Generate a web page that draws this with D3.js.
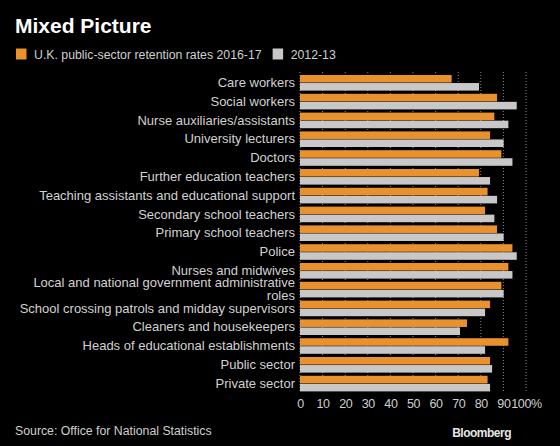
<!DOCTYPE html>
<html><head><meta charset="utf-8">
<script src="https://cdn.jsdelivr.net/npm/d3@7"></script>
<style>
html,body{margin:0;padding:0;background:#000;}
svg{display:block;}
text{font-family:"Liberation Sans",sans-serif;}
</style></head>
<body>
<svg id="chart" width="560" height="446"></svg>
<script>
const categories = [
  "Care workers","Social workers","Nurse auxiliaries/assistants","University lecturers",
  "Doctors","Further education teachers","Teaching assistants and educational support",
  "Secondary school teachers","Primary school teachers","Police","Nurses and midwives",
  "Local and national government administrative roles",
  "School crossing patrols and midday supervisors","Cleaners and housekeepers",
  "Heads of educational establishments","Public sector","Private sector"
];
const rates2016 = [67.1,87.2,86.0,84.1,89.1,79.2,83.0,81.9,87.2,94.0,92.2,89.1,84.1,73.9,92.2,84.1,83.0];
const rates2012 = [79.2,95.9,92.2,90.1,94.0,84.1,87.2,86.0,90.1,95.9,94.0,90.1,81.9,70.8,81.9,85.0,84.1];
const seriesNames = ["U.K. public-sector retention rates 2016-17","2012-13"];
const tickValues = [0,10,20,30,40,50,60,70,80,90,100];

const colors = ["#e8912d","#c8c8c8"];
const svg = d3.select("#chart");
svg.append("rect").attr("width",560).attr("height",446).attr("fill","#000");

const x = d3.scaleLinear().domain([0,100]).range([300,526]);
const y = d3.scaleBand().domain(categories).range([73.4,393]).paddingInner(0.17).paddingOuter(0.085);
const ySub = d3.scaleBand().domain([0,1]).range([0,y.bandwidth()]).paddingInner(0.06);

// title
svg.append("text").attr("x",15).attr("y",33).attr("fill","#fff")
  .style("font-weight","bold").style("font-size","21px")
  .text("Mixed Picture");

// legend
const leg = svg.append("g");
let lx = 16;
seriesNames.forEach((name,i)=>{
  leg.append("rect").attr("x",lx).attr("y",48.5).attr("width",10.5).attr("height",11).attr("fill",colors[i]);
  const t = leg.append("text").attr("x",lx+18).attr("y",59).attr("fill","#cfcfcf")
    .style("font-size","12.3px").text(name);
  lx += 18 + t.node().getComputedTextLength() + 11;
});

// gridlines
svg.append("g").selectAll("line").data(tickValues).join("line")
  .attr("x1",d=>x(d)).attr("x2",d=>x(d)).attr("y1",72).attr("y2",393)
  .attr("stroke","#8a8a8a").attr("stroke-width",1).attr("stroke-dasharray","1,2");

// bars
const rows = categories.map((c,i)=>({c, v:[rates2016[i],rates2012[i]]}));
const g = svg.append("g").selectAll("g").data(rows).join("g")
  .attr("transform",d=>`translate(0,${y(d.c)})`);
g.selectAll("rect").data(d=>d.v.map((v,k)=>({v,k}))).join("rect")
  .attr("x",x(0)).attr("y",d=>ySub(d.k)).attr("height",ySub.bandwidth())
  .attr("width",d=>x(d.v)-x(0)).attr("fill",d=>colors[d.k]);

// y labels
const yAxis = d3.axisLeft(y).tickSize(0).tickPadding(0);
const ya = svg.append("g").attr("transform","translate(295,0)").call(yAxis);
ya.select(".domain").remove();
ya.selectAll("text").attr("fill","#d2d2d2").style("font-size","13px")
  .style("font-family","'Liberation Sans',sans-serif");
ya.selectAll("text").each(function(){
  const t = d3.select(this);
  if (this.getComputedTextLength() > 285) {
    const words = t.text().split(" ");
    const last = words.pop();
    t.text(null);
    t.append("tspan").attr("x",0).attr("dy","-0.2em").text(words.join(" "));
    t.append("tspan").attr("x",0).attr("dy","1.0em").text(last);
  }
});

// x axis
const xAxis = d3.axisBottom(x).tickValues(tickValues).tickSize(0).tickPadding(0)
  .tickFormat(d=>d===100?"100%":d);
const xa = svg.append("g").attr("transform","translate(0,399)").call(xAxis);
xa.select(".domain").remove();
xa.selectAll("text").attr("fill","#cfcfcf").style("font-size","12.5px")
  .style("letter-spacing","-0.4px")
  .style("font-family","'Liberation Sans',sans-serif");

// footer
svg.append("text").attr("x",15).attr("y",435).attr("fill","#cfcfcf").style("font-size","12.3px")
  .text("Source: Office for National Statistics");
svg.append("text").attr("x",511).attr("y",437).attr("text-anchor","end").attr("fill","#e6e6e6")
  .style("font-weight","bold").style("font-size","12px").style("letter-spacing","-0.5px")
  .text("Bloomberg");
</script>
</body></html>
